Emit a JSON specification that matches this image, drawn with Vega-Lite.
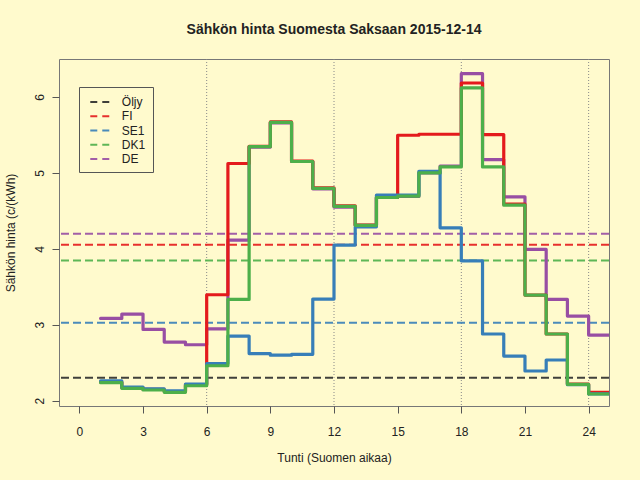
{
  "$schema": "https://vega.github.io/schema/vega-lite/v6.json",
  "width": 550,
  "height": 347,
  "autosize": "none",
  "padding": {"top": 59, "left": 59, "right": 31, "bottom": 74},
  "background": "#FFFACD",
  "title": {
    "text": "Sähkön hinta Suomesta Saksaan 2015-12-14",
    "font": "Liberation Sans",
    "fontSize": 14,
    "fontWeight": "bold",
    "color": "#222222",
    "anchor": "middle",
    "frame": "group",
    "baseline": "alphabetic",
    "offset": 11
  },
  "datasets": {
    "prices": [
      {"hour": 1, "series": "DE", "price": 3.084}, {"hour": 2, "series": "DE", "price": 3.141},
      {"hour": 3, "series": "DE", "price": 2.939}, {"hour": 4, "series": "DE", "price": 2.772},
      {"hour": 5, "series": "DE", "price": 2.737}, {"hour": 6, "series": "DE", "price": 2.947},
      {"hour": 7, "series": "DE", "price": 4.114}, {"hour": 8, "series": "DE", "price": 5.34},
      {"hour": 9, "series": "DE", "price": 5.66}, {"hour": 10, "series": "DE", "price": 5.15},
      {"hour": 11, "series": "DE", "price": 4.79}, {"hour": 12, "series": "DE", "price": 4.55},
      {"hour": 13, "series": "DE", "price": 4.31}, {"hour": 14, "series": "DE", "price": 4.68},
      {"hour": 15, "series": "DE", "price": 4.69}, {"hour": 16, "series": "DE", "price": 5.0},
      {"hour": 17, "series": "DE", "price": 5.09}, {"hour": 18, "series": "DE", "price": 6.307},
      {"hour": 19, "series": "DE", "price": 5.176}, {"hour": 20, "series": "DE", "price": 4.685},
      {"hour": 21, "series": "DE", "price": 3.992}, {"hour": 22, "series": "DE", "price": 3.334},
      {"hour": 23, "series": "DE", "price": 3.114}, {"hour": 24, "series": "DE", "price": 2.864},
      {"hour": 25, "series": "DE", "price": 2.864},
      {"hour": 1, "series": "FI", "price": 2.245}, {"hour": 2, "series": "FI", "price": 2.17},
      {"hour": 3, "series": "FI", "price": 2.148}, {"hour": 4, "series": "FI", "price": 2.12},
      {"hour": 5, "series": "FI", "price": 2.21}, {"hour": 6, "series": "FI", "price": 3.395},
      {"hour": 7, "series": "FI", "price": 5.124}, {"hour": 8, "series": "FI", "price": 5.351},
      {"hour": 9, "series": "FI", "price": 5.671}, {"hour": 10, "series": "FI", "price": 5.154},
      {"hour": 11, "series": "FI", "price": 4.803}, {"hour": 12, "series": "FI", "price": 4.566},
      {"hour": 13, "series": "FI", "price": 4.312}, {"hour": 14, "series": "FI", "price": 4.676},
      {"hour": 15, "series": "FI", "price": 5.496}, {"hour": 16, "series": "FI", "price": 5.509},
      {"hour": 17, "series": "FI", "price": 5.509}, {"hour": 18, "series": "FI", "price": 6.184},
      {"hour": 19, "series": "FI", "price": 5.505}, {"hour": 20, "series": "FI", "price": 4.588},
      {"hour": 21, "series": "FI", "price": 3.391}, {"hour": 22, "series": "FI", "price": 2.878},
      {"hour": 23, "series": "FI", "price": 2.22}, {"hour": 24, "series": "FI", "price": 2.11},
      {"hour": 25, "series": "FI", "price": 2.11},
      {"hour": 1, "series": "SE1", "price": 2.26}, {"hour": 2, "series": "SE1", "price": 2.18},
      {"hour": 3, "series": "SE1", "price": 2.155}, {"hour": 4, "series": "SE1", "price": 2.13},
      {"hour": 5, "series": "SE1", "price": 2.22}, {"hour": 6, "series": "SE1", "price": 2.49},
      {"hour": 7, "series": "SE1", "price": 2.851}, {"hour": 8, "series": "SE1", "price": 2.62},
      {"hour": 9, "series": "SE1", "price": 2.6}, {"hour": 10, "series": "SE1", "price": 2.61},
      {"hour": 11, "series": "SE1", "price": 3.338}, {"hour": 12, "series": "SE1", "price": 4.049},
      {"hour": 13, "series": "SE1", "price": 4.29}, {"hour": 14, "series": "SE1", "price": 4.707},
      {"hour": 15, "series": "SE1", "price": 4.707}, {"hour": 16, "series": "SE1", "price": 5.022},
      {"hour": 17, "series": "SE1", "price": 4.277}, {"hour": 18, "series": "SE1", "price": 3.842},
      {"hour": 19, "series": "SE1", "price": 2.878}, {"hour": 20, "series": "SE1", "price": 2.588},
      {"hour": 21, "series": "SE1", "price": 2.391}, {"hour": 22, "series": "SE1", "price": 2.536},
      {"hour": 23, "series": "SE1", "price": 2.21}, {"hour": 24, "series": "SE1", "price": 2.09},
      {"hour": 25, "series": "SE1", "price": 2.09},
      {"hour": 1, "series": "DK1", "price": 2.237}, {"hour": 2, "series": "DK1", "price": 2.163},
      {"hour": 3, "series": "DK1", "price": 2.141}, {"hour": 4, "series": "DK1", "price": 2.11},
      {"hour": 5, "series": "DK1", "price": 2.197}, {"hour": 6, "series": "DK1", "price": 2.46},
      {"hour": 7, "series": "DK1", "price": 3.334}, {"hour": 8, "series": "DK1", "price": 5.345},
      {"hour": 9, "series": "DK1", "price": 5.665}, {"hour": 10, "series": "DK1", "price": 5.15},
      {"hour": 11, "series": "DK1", "price": 4.795}, {"hour": 12, "series": "DK1", "price": 4.56},
      {"hour": 13, "series": "DK1", "price": 4.31}, {"hour": 14, "series": "DK1", "price": 4.676},
      {"hour": 15, "series": "DK1", "price": 4.693}, {"hour": 16, "series": "DK1", "price": 5.0},
      {"hour": 17, "series": "DK1", "price": 5.079}, {"hour": 18, "series": "DK1", "price": 6.119},
      {"hour": 19, "series": "DK1", "price": 5.079}, {"hour": 20, "series": "DK1", "price": 4.575},
      {"hour": 21, "series": "DK1", "price": 3.391}, {"hour": 22, "series": "DK1", "price": 2.878},
      {"hour": 23, "series": "DK1", "price": 2.215}, {"hour": 24, "series": "DK1", "price": 2.088},
      {"hour": 25, "series": "DK1", "price": 2.088}
    ],
    "averages": [
      {"series": "Öljy", "avg": 2.303},
      {"series": "FI", "avg": 4.053},
      {"series": "SE1", "avg": 3.026},
      {"series": "DK1", "avg": 3.847},
      {"series": "DE", "avg": 4.197}
    ],
    "sixhours": [{"hour": 6}, {"hour": 12}, {"hour": 18}, {"hour": 24}]
  },
  "encoding": {
    "x": {
      "field": "hour",
      "type": "quantitative",
      "scale": {"domain": [-0.96, 24.96], "nice": false, "zero": false},
      "axis": {
        "title": "Tunti (Suomen aikaa)",
        "values": [0, 3, 6, 9, 12, 15, 18, 21, 24],
        "format": "d",
        "grid": false,
        "domain": false,
        "tickColor": "#555555",
        "tickSize": 7,
        "labelFont": "Liberation Sans",
        "labelFontSize": 12,
        "labelColor": "#222222",
        "labelBaseline": "alphabetic",
        "labelPadding": 22,
        "titleFont": "Liberation Sans",
        "titleFontSize": 12,
        "titleFontWeight": "normal",
        "titleColor": "#222222",
        "titleBaseline": "alphabetic",
        "titleY": 55
      }
    }
  },
  "layer": [
    {
      "data": {"name": "sixhours"},
      "mark": {"type": "rule", "color": "#888888", "strokeWidth": 1, "strokeDash": [1, 2]},
      "encoding": {}
    },
    {
      "data": {"name": "averages"},
      "mark": {"type": "rule", "strokeWidth": 2, "strokeDash": [8, 4], "opacity": 0.9},
      "encoding": {
        "x": null,
        "y": {
          "field": "avg",
          "type": "quantitative",
          "scale": {"domain": [1.93, 6.5], "nice": false, "zero": false},
          "axis": {
            "title": "Sähkön hinta (c/(kWh)",
            "values": [2, 3, 4, 5, 6],
            "format": "d",
            "grid": false,
            "domain": false,
            "tickColor": "#555555",
            "tickSize": 7,
            "labelFont": "Liberation Sans",
            "labelFontSize": 12,
            "labelColor": "#222222",
            "labelAngle": -90,
            "labelAlign": "center",
            "labelBaseline": "alphabetic",
            "labelPadding": 9,
            "titleFont": "Liberation Sans",
            "titleFontSize": 12,
            "titleFontWeight": "normal",
            "titleColor": "#222222",
            "titleAngle": -90,
            "titleBaseline": "alphabetic",
            "titleX": -45,
            "titleY": 173.5
          }
        },
        "color": {
          "field": "series",
          "type": "nominal",
          "scale": {
            "domain": ["Öljy", "FI", "SE1", "DK1", "DE"],
            "range": ["#2b2b2b", "#E41A1C", "#377EB8", "#4DAF4A", "#984EA3"]
          },
          "legend": {
            "title": null,
            "orient": "none",
            "legendX": 20,
            "legendY": 28,
            "padding": 7,
            "strokeColor": "#555555",
            "symbolType": "M -1.36 0 L 1.36 0",
            "symbolSize": 196,
            "symbolOffset": 5.8,
            "symbolStrokeWidth": 2,
            "symbolDash": [7, 5],
            "symbolOpacity": 0.9,
            "labelFont": "Liberation Sans",
            "labelFontSize": 12,
            "labelColor": "#222222",
            "labelOffset": 14,
            "rowPadding": 0.25
          }
        }
      }
    },
    {
      "data": {"name": "prices"},
      "transform": [{"filter": "datum.series == 'DE'"}],
      "mark": {"type": "line", "interpolate": "step-after", "strokeWidth": 3.2, "strokeJoin": "round", "strokeCap": "round", "clip": true},
      "encoding": {
        "y": {"field": "price", "type": "quantitative"},
        "color": {"field": "series", "type": "nominal"}
      }
    },
    {
      "data": {"name": "prices"},
      "transform": [{"filter": "datum.series == 'FI'"}],
      "mark": {"type": "line", "interpolate": "step-after", "strokeWidth": 3.2, "strokeJoin": "round", "strokeCap": "round", "clip": true},
      "encoding": {
        "y": {"field": "price", "type": "quantitative"},
        "color": {"field": "series", "type": "nominal"}
      }
    },
    {
      "data": {"name": "prices"},
      "transform": [{"filter": "datum.series == 'SE1'"}],
      "mark": {"type": "line", "interpolate": "step-after", "strokeWidth": 3.2, "strokeJoin": "round", "strokeCap": "round", "clip": true},
      "encoding": {
        "y": {"field": "price", "type": "quantitative"},
        "color": {"field": "series", "type": "nominal"}
      }
    },
    {
      "data": {"name": "prices"},
      "transform": [{"filter": "datum.series == 'DK1'"}],
      "mark": {"type": "line", "interpolate": "step-after", "strokeWidth": 3.2, "strokeJoin": "round", "strokeCap": "round", "clip": true},
      "encoding": {
        "y": {"field": "price", "type": "quantitative"},
        "color": {"field": "series", "type": "nominal"}
      }
    }
  ],
  "config": {
    "view": {"stroke": "#777777", "strokeWidth": 1},
    "font": "Liberation Sans"
  }
}
